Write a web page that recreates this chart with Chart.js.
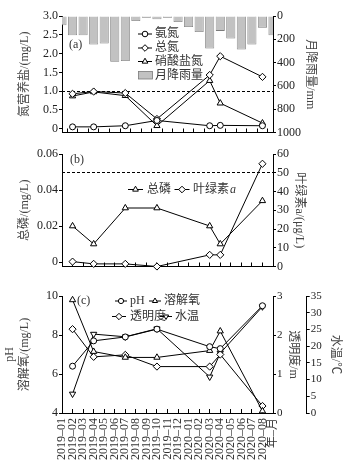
<!DOCTYPE html>
<html>
<head>
<meta charset="utf-8">
<script src="https://cdn.jsdelivr.net/npm/chart.js@4"></script>
<style>
html,body{margin:0;padding:0;background:#fff;}
#wrap{position:relative;width:350px;height:470px;background:#fff;}
#wrap canvas{position:absolute;left:0;top:0;}
</style>
</head>
<body>
<div id="wrap">
<canvas id="ca" width="350" height="470"></canvas>
<canvas id="cb" width="350" height="470"></canvas>
<canvas id="cc" width="350" height="470"></canvas>
</div>
<script>
// ---------- data ----------
const months = ['2019-01','2019-02','2019-03','2019-04','2019-05','2019-06','2019-07','2019-08','2019-09','2019-10','2019-11','2019-12','2020-01','2020-02','2020-03','2020-04','2020-05','2020-06','2020-07','2020-08','2020-09'];
const xTickLabels = ['2019–01','2019–02','2019–03','2019–04','2019–05','2019–06','2019–07','2019–08','2019–09','2019–10','2019–11','2019–12','2020–01','2020–02','2020–03','2020–04','2020–05','2020–06','2020–07','2020–08','年–月'];

// panel (a)
const rainfall   = [80,165,165,245,236,393,387,43,14,28,14,51,94,137,279,128,194,288,245,100,165];
const ammoniaN   = [null,0.05,null,0.05,null,null,0.08,null,null,0.22,null,null,null,null,0.08,0.09,null,null,null,0.08,null];
const totalN     = [null,0.93,null,0.99,null,null,0.95,null,null,0.26,null,null,null,null,1.43,1.93,null,null,null,1.38,null];
const nitrateN   = [null,0.87,null,0.98,null,null,0.88,null,null,0.08,null,null,null,null,1.28,0.68,null,null,null,0.15,null];
const nTicks     = [0,0.5,1.0,1.5,2.0,2.5,3.0];
const rainTicks  = [0,200,400,600,800,1000];
const nLimit     = 1.0;

// panel (b)
const totalP     = [null,0.020,null,0.010,null,null,0.030,null,null,0.030,null,null,null,null,0.020,0.010,null,null,null,0.034,null];
const chla       = [null,2.6,null,1.4,null,null,1.4,null,null,0,null,null,null,null,6.2,6.2,null,null,null,54.8,null];
const pTicks     = [0,0.02,0.04,0.06];
const chlaTicks  = [0,10,20,30,40,50,60];
const pLimit     = 0.05;

// panel (c)
const pH         = [null,6.4,null,7.7,null,null,7.9,null,null,8.3,null,null,null,null,7.4,7.3,null,null,null,9.5,null];
const DO         = [null,9.8,null,7.15,null,null,6.85,null,null,6.85,null,null,null,null,7.2,8.2,null,null,null,4.1,null];
const secchi     = [null,2.15,null,1.44,null,null,1.49,null,null,1.19,null,null,null,null,1.19,1.5,null,null,null,0.18,null];
const waterTemp  = [null,5.7,null,23.6,null,null,22.8,null,null,25.2,null,null,null,null,10.8,17.9,null,null,null,31.8,null];
const phTicks    = [4,6,8,10];
const sdTicks    = [0,1,2,3];
const wtTicks    = [0,5,10,15,20,25,30,35];

// ---------- style ----------
const FONT = "'Liberation Serif', 'Noto Sans CJK SC', serif";
Chart.defaults.font.family = FONT;
Chart.defaults.font.size = 12;
Chart.defaults.color = '#333';
Chart.defaults.animation = false;
Chart.defaults.plugins.legend.display = false;
Chart.defaults.plugins.tooltip.enabled = false;

function drawMarker(ctx, style, x, y, r) {
  ctx.beginPath();
  if (style === 'circle') {
    ctx.arc(x, y, r, 0, Math.PI * 2);
  } else if (style === 'diamond') {
    ctx.moveTo(x, y - r); ctx.lineTo(x + r, y); ctx.lineTo(x, y + r); ctx.lineTo(x - r, y);
  } else if (style === 'triangle') {
    ctx.moveTo(x, y - r); ctx.lineTo(x + 0.866 * r, y + 0.5 * r); ctx.lineTo(x - 0.866 * r, y + 0.5 * r);
  } else if (style === 'triangleDown') {
    ctx.moveTo(x, y + r); ctx.lineTo(x + 0.866 * r, y - 0.5 * r); ctx.lineTo(x - 0.866 * r, y - 0.5 * r);
  }
  ctx.closePath();
  ctx.fillStyle = '#fff'; ctx.fill();
  ctx.strokeStyle = '#000'; ctx.lineWidth = 1; ctx.stroke();
}

function lineItem(ctx, style, cx, cy, half, r) {
  ctx.save();
  ctx.strokeStyle = '#000'; ctx.lineWidth = 1;
  ctx.beginPath(); ctx.moveTo(cx - half, cy); ctx.lineTo(cx + half, cy); ctx.stroke();
  drawMarker(ctx, style, cx, cy, r);
  ctx.restore();
}

function text(ctx, str, x, y, opts) {
  ctx.save();
  ctx.font = (opts && opts.font) || ('12px ' + FONT);
  ctx.fillStyle = (opts && opts.color) || '#333';
  ctx.textAlign = 'left'; ctx.textBaseline = 'middle';
  ctx.fillText(str, x, y);
  const w = ctx.measureText(str).width;
  ctx.restore();
  return w;
}

function hLine(chart, axisId, value) {
  const ctx = chart.ctx, a = chart.chartArea;
  const y = chart.scales[axisId].getPixelForValue(value);
  ctx.save();
  ctx.strokeStyle = '#000'; ctx.lineWidth = 1; ctx.setLineDash([3, 2]);
  ctx.beginPath(); ctx.moveTo(a.left, Math.round(y) + 0.5); ctx.lineTo(a.right, Math.round(y) + 0.5); ctx.stroke();
  ctx.restore();
}

function yAxis(position, width, title, titlePad, ticksArr, fmt, extra, tickSize) {
  const ax = {
    type: 'linear', position,
    grid: { drawOnChartArea: false, drawTicks: true, tickLength: 3, color: '#000', lineWidth: 1 },
    border: { display: true, color: '#000', width: 1 },
    ticks: { padding: 1, autoSkip: false, color: '#222', font: { size: tickSize || 12, family: FONT }, callback: fmt },
    title: { display: true, text: title, color: '#444', font: { size: 12, lineHeight: 1.25, family: FONT }, padding: { top: titlePad, bottom: 0 } },
    afterBuildTicks: s => { s.ticks = ticksArr.map(v => ({ value: v })); },
    afterFit: s => { s.width = width; }
  };
  return Object.assign(ax, extra || {});
}

function xAxis(showLabels, height) {
  return {
    type: 'category', offset: false,
    grid: { drawOnChartArea: false, drawTicks: true, tickLength: -4, color: '#000', lineWidth: 1 },
    border: { display: true, color: '#000', width: 1 },
    ticks: showLabels
      ? { display: true, autoSkip: false, maxRotation: 90, minRotation: 90, padding: 9, color: '#333', font: { size: 12, family: FONT }, callback: (v, i) => xTickLabels[i] }
      : { display: false, autoSkip: false },
    afterFit: s => { s.height = height; }
  };
}

function lineDs(label, data, style, axis) {
  const isCircle = style === 'circle';
  return {
    type: 'line', label, data, yAxisID: axis,
    borderColor: '#000', borderWidth: 1, backgroundColor: '#fff',
    pointStyle: style === 'diamond' ? 'rectRot' : (style === 'circle' ? 'circle' : 'triangle'),
    pointRotation: style === 'triangleDown' ? 180 : 0,
    pointRadius: isCircle ? 3 : 3.6,
    pointBackgroundColor: '#fff', pointBorderColor: '#000', pointBorderWidth: 1,
    spanGaps: true, tension: 0, clip: false, order: 1
  };
}

const fmt1 = v => v === 0 ? '0' : v.toFixed(1);
const fmt2 = v => v === 0 ? '0' : v.toFixed(2);
const fmt0 = v => String(v);

// ---------- panel (a) ----------
new Chart(document.getElementById('ca'), {
  type: 'bar',
  data: {
    labels: months,
    datasets: [
      lineDs('氨氮', ammoniaN, 'circle', 'y'),
      lineDs('总氮', totalN, 'diamond', 'y'),
      lineDs('硝酸盐氮', nitrateN, 'triangle', 'y'),
      { type: 'bar', label: '月降雨量', data: rainfall, yAxisID: 'yR', backgroundColor: '#c2c2c2', borderColor: '#7a7a7a', borderWidth: 0.8, borderSkipped: 'start', barPercentage: 0.86, categoryPercentage: 1, clip: 0, order: 2 }
    ]
  },
  options: {
    responsive: false,
    layout: { padding: { top: 16, bottom: 337.5, left: 0, right: 0 } },
    scales: {
      x: xAxis(false, 0),
      y: yAxis('left', 62, '氮营养盐/(mg/L)', 17.5, nTicks, fmt1, { min: -0.1, max: 3.0 }),
      yR: yAxis('right', 77, '月降雨量/mm', 32, rainTicks, fmt0, { min: 0, max: 1000, reverse: true })
    }
  },
  plugins: [{
    id: 'decoA',
    beforeDatasetsDraw(chart) { hLine(chart, 'y', nLimit); },
    afterDraw(chart) {
      const ctx = chart.ctx, ds = chart.data.datasets;
      lineItem(ctx, 'circle', 145, 34, 7, 2.8);    text(ctx, ds[0].label, 155, 34);
      lineItem(ctx, 'diamond', 145, 48, 7, 3.3);   text(ctx, ds[1].label, 155, 48);
      lineItem(ctx, 'triangle', 145, 61.5, 7, 3.3); text(ctx, ds[2].label, 155, 61.5);
      ctx.save(); ctx.fillStyle = '#c2c2c2'; ctx.strokeStyle = '#7a7a7a'; ctx.lineWidth = 0.8;
      ctx.fillRect(138.5, 71.5, 14, 7.5); ctx.strokeRect(138.5, 71.5, 14, 7.5); ctx.restore();
      text(ctx, ds[3].label, 155, 75.5);
      text(ctx, '(a)', 69, 45);
    }
  }]
});

// ---------- panel (b) ----------
new Chart(document.getElementById('cb'), {
  type: 'line',
  data: {
    labels: months,
    datasets: [
      lineDs('总磷', totalP, 'triangle', 'y'),
      lineDs('叶绿素a', chla, 'diamond', 'y2')
    ]
  },
  options: {
    responsive: false,
    layout: { padding: { top: 154, bottom: 203.5, left: 0, right: 0 } },
    scales: {
      x: xAxis(false, 0),
      y: yAxis('left', 62, '总磷/(mg/L)', 17.5, pTicks, fmt2, { min: -0.0025, max: 0.06 }),
      y2: yAxis('right', 77, '叶绿素a/(μg/L)', 43, chlaTicks, fmt0, { min: 0, max: 60 })
    }
  },
  plugins: [{
    id: 'decoB',
    beforeDatasetsDraw(chart) { hLine(chart, 'y', pLimit); },
    afterDraw(chart) {
      const ctx = chart.ctx, ds = chart.data.datasets;
      lineItem(ctx, 'triangle', 135.5, 189.5, 7.5, 3.3);
      text(ctx, ds[0].label, 147, 189.5);
      lineItem(ctx, 'diamond', 182, 189.5, 7.5, 3.3);
      const w = text(ctx, '叶绿素', 193, 189.5);
      text(ctx, 'a', 193 + w + 1, 189.5, { font: 'italic 12px ' + FONT });
      text(ctx, '(b)', 70, 160);
    }
  }]
});

// ---------- panel (c) ----------
new Chart(document.getElementById('cc'), {
  type: 'line',
  data: {
    labels: months,
    datasets: [
      lineDs('pH', pH, 'circle', 'y'),
      lineDs('溶解氧', DO, 'triangle', 'y'),
      lineDs('透明度', secchi, 'diamond', 'y2'),
      lineDs('水温', waterTemp, 'triangleDown', 'y3')
    ]
  },
  options: {
    responsive: false,
    layout: { padding: { top: 296, bottom: 0, left: 0, right: 0 } },
    scales: {
      x: xAxis(true, 57),
      y: yAxis('left', 62, ['pH', '溶解氧/(mg/L)'], 2.5, phTicks, fmt0, { min: 4, max: 10 }),
      y2: yAxis('right', 33.7, '透明度/m', 6.5, sdTicks, fmt0, { min: 0, max: 3 }, 11),
      y3: yAxis('right', 43.3, '水温/℃', 7.5, wtTicks, fmt0, { min: 0, max: 35 }, 11)
    }
  },
  plugins: [{
    id: 'decoC',
    afterDraw(chart) {
      const ctx = chart.ctx, ds = chart.data.datasets;
      lineItem(ctx, 'circle', 121, 301, 6, 2.6);   text(ctx, ds[0].label, 130, 301);
      lineItem(ctx, 'triangle', 155, 301, 6, 3);  text(ctx, ds[1].label, 164, 301);
      lineItem(ctx, 'diamond', 119, 316.5, 7, 3.2); text(ctx, ds[2].label, 130, 316.5);
      lineItem(ctx, 'triangleDown', 166, 316.5, 6, 3); text(ctx, ds[3].label, 175, 316.5);
      text(ctx, '(c)', 77, 300.5);
    }
  }]
});
</script>
</body>
</html>
